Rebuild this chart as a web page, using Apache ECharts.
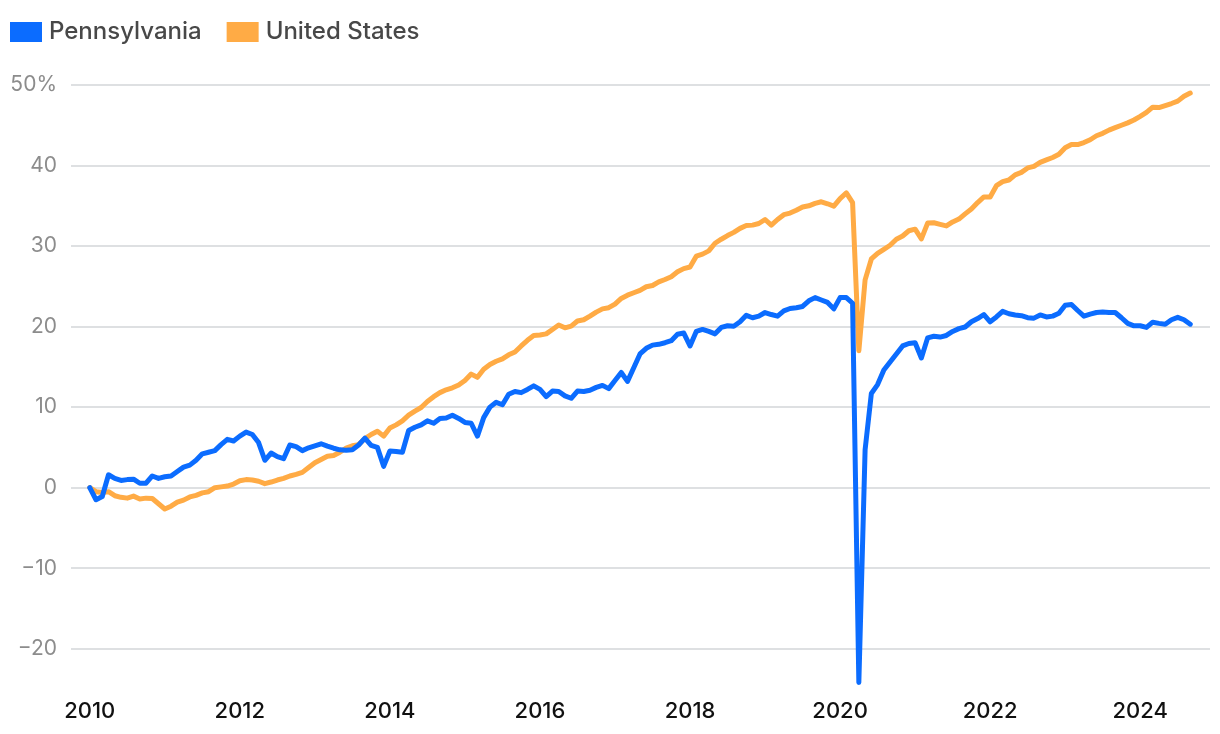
<!DOCTYPE html>
<html>
<head>
<meta charset="utf-8">
<script src="https://cdn.jsdelivr.net/npm/echarts@6/dist/echarts.min.js"></script>
<style>
html,body{margin:0;padding:0;background:#fff;}
#chart{width:1220px;height:734px;}
</style>
</head>
<body>
<div id="chart"></div>
<script>
// Monthly series, Jan 2010 – Sep 2024 (percent change since Jan 2010)
const startYear = 2010;
const seriesNames = ['Pennsylvania', 'United States'];
const pennsylvania = [
  0.0, -1.5, -1.1, 1.6, 1.15, 0.9, 1.0, 1.05, 0.55, 0.55, 1.45, 1.15,
  1.35, 1.45, 2.0, 2.55, 2.8, 3.4, 4.2, 4.4, 4.6, 5.35, 6.0, 5.8,
  6.4, 6.9, 6.6, 5.6, 3.4, 4.3, 3.85, 3.6, 5.3, 5.1, 4.6, 4.95,
  5.2, 5.45, 5.15, 4.9, 4.7, 4.65, 4.7, 5.3, 6.15, 5.25, 5.0, 2.65,
  4.55, 4.5, 4.4, 7.1, 7.5, 7.8, 8.3, 8.0, 8.6, 8.65, 9.0, 8.6,
  8.1, 8.0, 6.4, 8.7, 10.0, 10.6, 10.3, 11.6, 11.95, 11.8, 12.2, 12.65,
  12.2, 11.3, 12.0, 11.95, 11.4, 11.1, 12.0, 11.95, 12.1, 12.45, 12.7, 12.3,
  13.3, 14.3, 13.2, 14.9, 16.6, 17.3, 17.7, 17.8, 18.0, 18.25, 19.05, 19.2,
  17.6, 19.4, 19.65, 19.4, 19.1, 19.9, 20.1, 20.05, 20.6, 21.4, 21.1, 21.3,
  21.75, 21.5, 21.3, 21.95, 22.25, 22.35, 22.5, 23.2, 23.6, 23.3, 23.0, 22.2,
  23.6, 23.6, 22.9, -24.2, 4.7, 11.7, 12.8, 14.6, 15.6, 16.6, 17.6, 17.9,
  18.0, 16.1, 18.6, 18.8, 18.7, 18.9, 19.4, 19.75, 19.95, 20.6, 21.0, 21.5,
  20.6, 21.2, 21.9, 21.6, 21.45, 21.35, 21.1, 21.05, 21.45, 21.2, 21.3, 21.65,
  22.65, 22.75, 22.0, 21.3, 21.55, 21.75, 21.8, 21.75, 21.75, 21.1, 20.4, 20.1,
  20.1, 19.9, 20.55, 20.4, 20.3, 20.85, 21.15, 20.85, 20.3
];
const unitedStates = [
  0.0, -0.5, -0.6, -0.5, -1.0, -1.2, -1.3, -1.05, -1.4, -1.3, -1.35, -2.0,
  -2.65, -2.3, -1.8, -1.55, -1.15, -0.95, -0.65, -0.5, 0.0, 0.1, 0.2, 0.45,
  0.85, 1.0, 0.95, 0.8, 0.5, 0.7, 0.95, 1.15, 1.45, 1.65, 1.9, 2.5,
  3.1, 3.5, 3.9, 4.0, 4.4, 4.9, 5.2, 5.35, 6.1, 6.6, 7.0, 6.4,
  7.4, 7.8, 8.3, 9.0, 9.5, 9.95, 10.7, 11.3, 11.8, 12.15, 12.4, 12.75,
  13.3, 14.1, 13.7, 14.7, 15.3, 15.7, 16.0, 16.5, 16.85, 17.6, 18.3, 18.9,
  18.95, 19.1, 19.65, 20.2, 19.85, 20.05, 20.7, 20.85, 21.3, 21.8, 22.2, 22.35,
  22.8, 23.5, 23.9, 24.2, 24.5, 24.95, 25.1, 25.55, 25.85, 26.2, 26.8, 27.2,
  27.4, 28.75, 29.0, 29.4, 30.35, 30.85, 31.3, 31.7, 32.2, 32.55, 32.6, 32.8,
  33.3, 32.6, 33.3, 33.9, 34.1, 34.45, 34.85, 35.0, 35.3, 35.5, 35.25, 34.95,
  35.9, 36.6, 35.4, 17.0, 25.8, 28.4, 29.1, 29.6, 30.1, 30.85, 31.25, 31.9,
  32.1, 30.9, 32.85, 32.9, 32.7, 32.5, 33.0, 33.35, 34.0, 34.6, 35.4, 36.1,
  36.1, 37.5, 38.0, 38.2, 38.85, 39.15, 39.7, 39.9, 40.4, 40.7, 41.0, 41.4,
  42.2, 42.6, 42.6, 42.85, 43.2, 43.7, 44.0, 44.4, 44.7, 45.0, 45.3, 45.65,
  46.1, 46.6, 47.25, 47.2, 47.45, 47.7, 48.0, 48.6, 49.0
];
const xTickLabels = [2010, 2012, 2014, 2016, 2018, 2020, 2022, 2024];
const yTickValues = [-20, -10, 0, 10, 20, 30, 40, 50];

const toPoints = arr => arr.map((v, i) => [startYear + i / 12, v]);

const FONT = 'Inter, "Noto Sans", sans-serif';
const chart = echarts.init(document.getElementById('chart'), null, {renderer: 'canvas'});
chart.setOption({
  animation: false,
  backgroundColor: '#ffffff',
  textStyle: {fontFamily: FONT},
  legend: {
    left: 10, top: 20, padding: 0,
    icon: 'rect', itemWidth: 32, itemHeight: 20, itemGap: 25,
    textStyle: {fontSize: 24, lineHeight: 20, color: '#484848', fontWeight: 500, fontFamily: FONT, padding: [0, 0, 0, 2]},
    data: seriesNames
  },
  grid: {left: 71, right: 10, top: 85, bottom: 45, containLabel: false},
  xAxis: {
    type: 'value',
    min: 2009.75, max: 2024.93,
    axisLine: {show: false},
    axisTick: {show: false, customValues: xTickLabels},
    splitLine: {show: false},
    axisLabel: {
      customValues: xTickLabels,
      margin: 11,
      fontSize: 22, color: '#111111', fontWeight: 500, fontFamily: FONT,
      formatter: v => String(Math.round(v))
    }
  },
  yAxis: {
    type: 'value',
    min: -25, max: 50,
    axisLine: {show: false},
    axisTick: {show: false, customValues: yTickValues},
    splitLine: {show: true, lineStyle: {color: '#d3d6d8', width: 1.5}},
    axisLabel: {
      customValues: yTickValues,
      margin: 14,
      fontSize: 21, color: '#8c8c8c', fontFamily: FONT,
      formatter: v => v === 50 ? '50%' : (v < 0 ? '\u2212' + Math.abs(v) : String(v))
    }
  },
  series: [
    {
      name: seriesNames[0], type: 'line', data: toPoints(pennsylvania),
      showSymbol: false, symbol: 'none', z: 3,
      itemStyle: {color: '#0b6cff'},
      lineStyle: {color: '#0b6cff', width: 5, cap: 'round', join: 'round'}
    },
    {
      name: seriesNames[1], type: 'line', data: toPoints(unitedStates),
      showSymbol: false, symbol: 'none', z: 2,
      itemStyle: {color: '#ffab45'},
      lineStyle: {color: '#ffab45', width: 5, cap: 'round', join: 'round'}
    }
  ]
});
</script>
</body>
</html>
